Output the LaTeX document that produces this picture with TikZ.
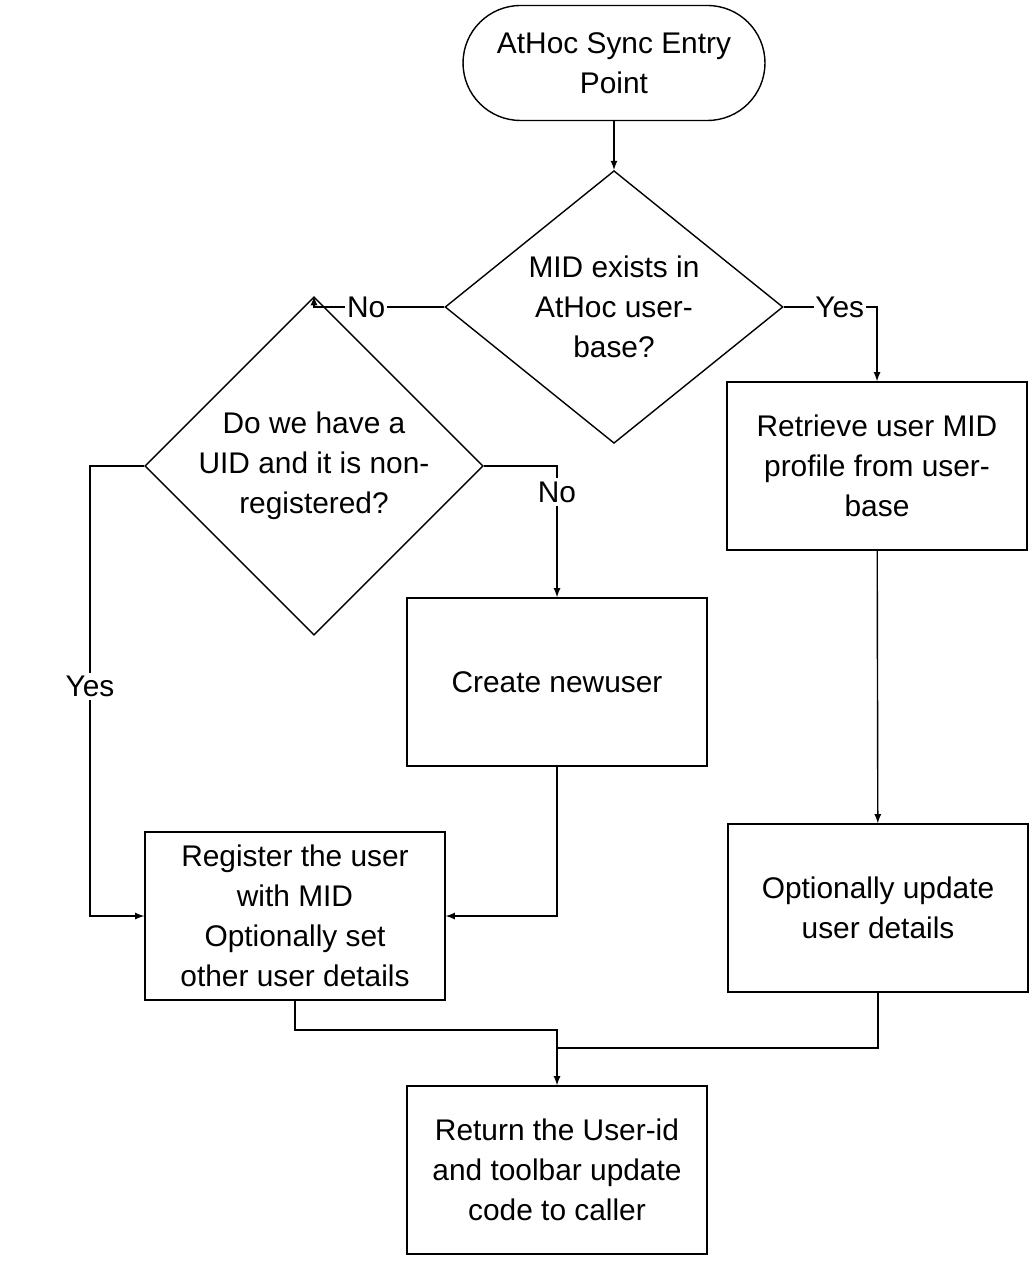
\documentclass[tikz,border=0pt]{standalone}
\usepackage{fontspec}
\setmainfont{Liberation Sans}
\usetikzlibrary{shapes.geometric}
\begin{document}
\begin{tikzpicture}[x = .02cm, y = -.02cm,
  every node/.style = {font = \fontsize{17}{22.7}\selectfont, align = center},
  box/.style = {draw, thick, minimum width = 6cm, minimum height = 3.36cm},
  term/.style = {draw, thick, rounded corners = 1.15cm, minimum width = 6.04cm, minimum height = 2.3cm},
  dec/.style = {draw, thick, diamond, inner sep = 0pt, minimum width = 6.76cm, minimum height = 4.44cm},
  flow/.style = {thick, -latex}]
\useasboundingbox (0, 0) rectangle (1035, 1263);
\draw (614, 63) node[term] (entry) {AtHoc Sync Entry\\Point};
\draw (614, 307) node[dec] (mid) {MID exists in\\AtHoc user-\\base?};
\draw (314, 466) node[dec] (uid) {Do we have a\\UID and it is non-\\registered?};
\draw (877, 466) node[box] (fetch) {Retrieve user MID\\profile from user-\\base};
\draw (557, 682) node[box] (create) {Create newuser};
\draw (295, 916) node[box] (register) {Register the user\\with MID\\Optionally set\\other user details};
\draw (878, 908) node[box] (update) {Optionally update\\user details};
\draw (557, 1170) node[box] (result) {Return the User-id\\and toolbar update\\code to caller};
\draw [flow] (entry) to (mid);
\draw [flow] (mid.west) -| node[pos = .3, fill = white, inner sep = 1pt] {No} (uid.north);
\draw [flow] (mid.east) -| node[pos = .3, fill = white, inner sep = 1pt] {Yes} (fetch.north);
\draw [flow] (uid.west) -- (90, 466) -- node[pos = .49, fill = white, inner sep = 2pt] {Yes} (90, 916) -- (register.west);
\draw [flow] (uid.east) -| node[pos = .6, fill = white, inner sep = 2pt] {No} (create.north);
\draw [flow] (create.south) |- (register.east);
\draw [flow] (fetch) to (update);
\draw [flow] (register.south) -- (295, 1030) -| (result.north);
\draw [thick] (update.south) |- (557, 1048);
\end{tikzpicture}
\end{document}
